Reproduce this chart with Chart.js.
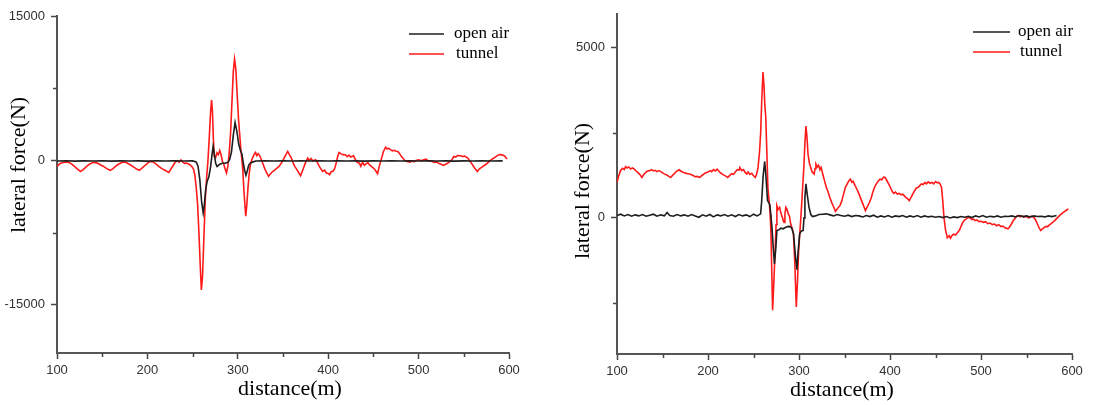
<!DOCTYPE html>
<html>
<head>
<meta charset="utf-8">
<script src="https://cdn.jsdelivr.net/npm/chart.js@4.4.1/dist/chart.umd.min.js"></script>
<style>
  html, body { margin: 0; padding: 0; background: #fff; }
  #wrap { position: relative; width: 1094px; height: 405px; }
  canvas { position: absolute; top: 0; }
</style>
</head>
<body>
<div id="wrap">
  <canvas id="leftChart" width="547" height="405" style="left:0"></canvas>
  <canvas id="rightChart" width="547" height="405" style="left:547px"></canvas>
</div>
<script>
// ---------- labels ----------
const X_TITLE = 'distance(m)';
const Y_TITLE = 'lateral force(N)';
const SERIES_NAMES = ['open air', 'tunnel'];

// ---------- ticks ----------
const X_MAJOR = [100, 200, 300, 400, 500, 600];
const X_MINOR = [150, 250, 350, 450, 550];
const LEFT_Y_MAJOR = [-15000, 0, 15000];
const LEFT_Y_MINOR = [-7500, 7500];
const RIGHT_Y_MAJOR = [0, 5000];
const RIGHT_Y_MINOR = [-2500, 2500];

// ---------- left chart: [distance, force] ----------
const LEFT_OPEN_AIR = [
  [100,-60],[110,-40],[120,-70],[130,-50],[140,-60],[150,-40],[160,-70],[170,-50],[180,-60],[190,-50],
  [200,-70],[210,-40],[220,-60],[230,-50],[240,-60],[250,-50],[254,-150],[256,-600],[258,-2000],[260,-4300],
  [261.7,-5440],[263,-4600],[264.5,-3000],[266,-2200],[268,-1700],[270,-600],[271.5,600],[272.7,1450],[274,700],
  [275.5,-300],[277,-620],[280,-400],[283,-300],[286,-300],[289,-200],[291,100],[293,900],[295,2600],[297,3930],
  [299,3000],[301,1700],[303,1000],[304.5,700],[306,-200],[307.5,-1000],[309,-1550],[310.5,-1100],[312,-500],
  [314,-250],[317,-150],[320,-60],[330,-40],[340,-60],[350,-50],[360,-60],[370,-40],[380,-60],[390,-50],
  [400,-60],[410,-40],[420,-60],[430,-50],[440,-70],[450,-50],[460,-60],[470,-40],[480,-60],[490,-50],
  [500,-60],[510,-40],[520,-60],[530,-50],[540,-70],[550,-50],[560,-60],[570,-40],[580,-60],[593,-50]
];
const LEFT_TUNNEL = [
  [100,-620],[103,-350],[106,-250],[109.7,-170],[113,-200],[116,-350],[119,-600],[122,-850],[126,-1140],[129,-950],
  [132,-700],[135,-450],[138,-280],[140.6,-200],[144,-250],[147,-400],[151,-600],[155,-850],[159,-1030],[162,-850],
  [165,-600],[168,-400],[171,-250],[173.5,-170],[177,-250],[181,-450],[185,-700],[188,-900],[191,-1030],[194,-800],
  [197,-550],[200,-300],[202,-150],[204.4,-100],[207,-200],[210,-400],[213,-650],[216,-850],[220,-1050],[223.7,-1240],
  [226,-900],[228,-600],[230,-300],[231.5,-100],[233.4,-30],[235,-200],[237,50],[239,-150],[241,-300],[243,-280],
  [245,-350],[247,-450],[249,-620],[251,-900],[252.5,-1500],[254,-2800],[255.5,-4500],[257,-7500],[258.5,-11000],
  [259.7,-13450],[261,-12000],[262.5,-8000],[264,-4070],[265.5,-1800],[267,0],[268.5,2500],[270,5200],[271,6280],
  [272,5000],[273,2200],[274,400],[275.5,300],[277,800],[278.5,600],[280,1030],[281.5,600],[283,-100],[284.5,-400],
  [286,-900],[287.5,-1310],[289,-600],[290.5,800],[292,2830],[293.5,6000],[295,9200],[296.4,10520],[297.8,9500],
  [299.5,6500],[301,4000],[302,2830],[303.5,1000],[305,-400],[305.7,-1310],[307,-3500],[308.8,-5790],[310,-4600],
  [311.3,-2800],[312.7,-1310],[314,-400],[316,200],[318,600],[319.6,830],[321,500],[322.5,700],[324.3,480],[326,100],
  [328,-400],[330,-900],[332,-1300],[334,-1650],[336,-1400],[338,-1200],[340,-1050],[342,-900],[345.6,-620],[348,-300],
  [350,0],[352,400],[355.2,930],[357,600],[359,300],[361,-200],[363,-620],[365,-900],[367,-1200],[369.5,-1590],
  [371,-1200],[373,-700],[375,-200],[377.3,240],[379,0],[381,200],[383,-50],[386,70],[388,-200],[390,-600],
  [392,-900],[393.9,-1140],[396,-1000],[398,-1300],[400,-1350],[401.6,-1480],[403,-1200],[405.5,-1100],[407.4,-790],
  [409,-200],[410.5,400],[412,830],[414,700],[416,600],[419,590],[421,400],[423,550],[425,350],[428,480],[430,100],
  [432,-200],[434.5,-280],[436,-600],[438,-200],[440,-500],[442,-340],[444,-250],[446,-500],[448,-650],[450,-790],
  [452,-1000],[454.6,-1380],[456,-800],[458,-100],[459.6,410],[461,900],[463.5,1380],[465,1200],[467,1250],
  [469.3,1100],[471,1000],[473,1050],[475,950],[477,930],[479,700],[481,400],[484.8,0],[487,-100],[490.6,-170],
  [493,-50],[495,-150],[497,0],[500,70],[503,-30],[505,50],[508,140],[510,0],[513,-60],[515,-100],[517.6,-200],
  [520,-150],[522,-300],[525,-400],[527.3,-520],[530,-400],[532,-300],[535,-100],[537,100],[539,410],[541,350],
  [543,500],[546.6,480],[549,400],[551,450],[554.4,240],[557,-100],[560,-500],[562,-800],[565,-1140],[567,-900],
  [570,-700],[573.7,-450],[576,-300],[578,-100],[581.4,140],[584,300],[587,500],[589,590],[591,600],[593,550],
  [595,480],[597.8,140]
];

// ---------- right chart: [distance, force] ----------
const RIGHT_OPEN_AIR = [
  [100,70],[104,110],[108,60],[112,100],[116,50],[120,90],[124,60],[128,100],[132,50],[136,80],[140,110],[144,50],
  [148,90],[152,60],[155,160],[158,70],[162,50],[166,100],[170,60],[174,90],[178,50],[182,100],[186,60],[190,20],
  [194,90],[198,50],[202,100],[206,30],[210,90],[214,60],[218,100],[222,50],[226,90],[230,40],[234,100],[238,60],
  [242,90],[246,40],[250,110],[254,60],[257.8,120],[259,500],[260.5,1200],[262.3,1660],[263.5,1300],[265.4,510],
  [268,390],[269,100],[270.3,-270],[271.5,-800],[273,-1350],[274.5,-900],[275.7,-370],[278,-350],[280,-300],
  [282.5,-320],[285,-280],[288,-250],[290,-255],[292,-300],[294,-470],[296,-1100],[297.7,-1520],[299,-1000],
  [300.7,-470],[302.5,-380],[304.5,-370],[305.5,0],[306.5,600],[307.6,1000],[309,700],[311,310],[313,100],[314.8,40],
  [318,60],[322,100],[326,110],[330,120],[334,90],[338,60],[342,100],[346,70],[350,50],[354,80],[358,40],[362,70],
  [366,60],[370,30],[374,70],[378,40],[382,80],[386,20],[390,60],[394,30],[398,70],[402,20],[406,60],[410,40],
  [414,70],[418,20],[422,60],[426,30],[430,70],[434,20],[438,60],[442,30],[446,50],[450,20],[454,40],[458,10],
  [462,40],[466,0],[470,30],[474,10],[478,40],[482,20],[486,50],[490,10],[494,60],[498,30],[502,70],[506,20],
  [510,50],[514,30],[518,60],[522,20],[526,50],[530,40],[534,60],[538,30],[542,70],[546,40],[550,60],[554,30],
  [558,60],[562,40],[566,50],[570,30],[574,60],[578,40],[583,70]
];
const RIGHT_TUNNEL = [
  [100,1045],[101.5,1200],[103.8,1390],[106,1460],[108,1420],[109.5,1510],[111,1470],[113,1500],[115,1440],[117,1470],
  [119,1435],[121,1380],[123,1330],[125,1280],[127.4,1190],[129,1260],[131,1320],[133,1370],[136,1390],[138,1420],
  [140,1380],[142,1400],[144,1360],[146,1390],[149.4,1340],[151,1310],[153,1280],[155,1260],[157,1220],[159,1190],
  [161,1250],[163,1300],[165,1360],[168.4,1415],[170,1380],[172,1350],[174,1330],[176,1310],[178,1300],[179.8,1290],
  [182,1270],[184,1240],[186,1210],[188,1220],[191,1190],[193,1240],[195,1280],[197,1320],[200,1350],[202.7,1390],
  [204,1360],[206,1420],[208,1380],[210,1435],[212,1370],[214,1320],[216,1280],[218,1250],[220,1220],[221.7,1190],
  [224,1250],[226,1300],[228,1280],[230,1350],[232,1420],[234,1400],[235,1485],[237,1390],[239,1420],[241,1330],
  [242.6,1290],[244,1350],[246,1280],[248,1310],[250,1240],[252,1190],[253.5,1300],[255,1485],[256.5,1900],
  [257.8,2460],[259,3400],[260.4,4290],[261.5,3900],[262.5,3300],[263.5,2950],[264.7,1900],[265.8,900],[267.3,460],
  [268.3,100],[269.2,-470],[270.1,-1600],[271,-2715],[272,-2100],[273.8,-960],[274.8,-200],[275.7,360],[277,250],
  [278.7,310],[280,150],[281.7,20],[282.7,-80],[283.6,-130],[284.5,100],[285.5,310],[286.8,250],[288.2,120],
  [289.5,50],[291,-195],[292.5,-300],[293.9,-470],[295.5,-1400],[297,-2620],[298.3,-1900],[299.6,-960],[301,-400],
  [302.3,120],[303.8,800],[305.3,1485],[306.5,2200],[307.6,2700],[308.7,2400],[309.9,1875],[311.5,1600],[312.9,1485],
  [314.5,1350],[316.7,1290],[317.6,1450],[318.6,1580],[320,1500],[321.5,1550],[323,1420],[324.3,1485],[326,1300],
  [328,1095],[330,900],[332,760],[333.8,605],[336,450],[338,330],[340,195],[341.5,250],[343,300],[345,360],[347,500],
  [349,700],[351,900],[353,1000],[355,1100],[356.6,1140],[358,1050],[359.5,1080],[361.6,950],[363.5,850],[366,700],
  [368,560],[370,420],[371.5,320],[373,215],[374.5,300],[376,380],[377.5,460],[379.5,600],[381,750],[383,900],
  [385,1000],[387,1080],[389,1140],[391,1120],[393,1200],[394.7,1190],[396.5,1100],[398.5,1000],[400.4,900],[402,800],
  [404,720],[406,760],[408,700],[410,720],[412,680],[414,700],[415.6,655],[417.5,600],[419.5,560],[421.3,510],
  [423,600],[425,700],[427,800],[429,880],[431,900],[432.7,950],[434.5,1000],[436.5,980],[438.4,1045],[440,1000],
  [442,1060],[444,1020],[446,1045],[448,1000],[450,1070],[452,1030],[453.6,1045],[455,1000],[456.6,900],[458,500],
  [459.3,20],[461,-350],[463,-585],[465,-520],[466.5,-600],[468,-520],[470,-480],[472,-500],[474.5,-420],[476.5,-350],
  [478,-250],[480,-130],[482,-60],[484,-20],[486,20],[488,0],[490,-50],[491.5,-30],[493.5,-80],[495.5,-60],
  [497.5,-110],[500,-100],[503,-130],[505,-110],[507.5,-170],[510,-150],[512.5,-195],[515,-180],[517,-230],
  [519.5,-200],[522,-255],[524,-240],[526.5,-290],[529.6,-320],[531,-280],[533,-200],[535.3,-80],[537.5,-10],
  [539,50],[541,70],[543,30],[545,60],[547,20],[550.5,40],[552.5,0],[555,50],[558,20],[560,-60],[562,-180],
  [564,-300],[565.7,-370],[567.5,-320],[569.5,-280],[571.5,-250],[573.3,-255],[575.5,-200],[577.5,-160],[579,-120],
  [581,-80],[583,-20],[585,30],[586.8,80],[588.5,120],[590.5,160],[592.5,200],[594.5,240],[596,265]
];

const COLORS = ['#1e1e1e', '#ff1a1a'];
const SANS = 'Liberation Sans, Arial, sans-serif';
const SERIF = 'Liberation Serif, Times New Roman, serif';

// minor ticks, axis titles and legend drawn with the chart's own scales
const originStyle = {
  id: 'originStyle',
  afterDraw(chart, args, opts) {
    const { ctx, chartArea } = chart;
    const x = chart.scales.x, y = chart.scales.y;
    ctx.save();
    ctx.strokeStyle = '#444';
    ctx.lineWidth = 1.5;
    ctx.beginPath();
    opts.minorX.forEach(v => {
      const px = Math.round(x.getPixelForValue(v)) + 0.5;
      ctx.moveTo(px, chartArea.bottom);
      ctx.lineTo(px, chartArea.bottom + 4);
    });
    opts.minorY.forEach(v => {
      const py = Math.round(y.getPixelForValue(v)) + 0.5;
      ctx.moveTo(chartArea.left, py);
      ctx.lineTo(chartArea.left - 4, py);
    });
    ctx.stroke();

    ctx.fillStyle = '#000';
    ctx.textAlign = 'center';
    ctx.textBaseline = 'middle';
    ctx.font = '22px ' + SERIF;
    ctx.fillText(X_TITLE, opts.xTitle[0], opts.xTitle[1]);
    ctx.save();
    ctx.translate(opts.yTitle[0], opts.yTitle[1]);
    ctx.rotate(-Math.PI / 2);
    ctx.fillText(Y_TITLE, 0, 0);
    ctx.restore();

    // legend
    ctx.font = '17px ' + SERIF;
    ctx.textAlign = 'left';
    chart.data.datasets.forEach((ds, i) => {
      const ly = opts.legend.y + i * opts.legend.gap;
      ctx.strokeStyle = ds.borderColor;
      ctx.lineWidth = 1.5;
      ctx.beginPath();
      ctx.moveTo(opts.legend.x0, ly);
      ctx.lineTo(opts.legend.x1, ly);
      ctx.stroke();
      ctx.fillStyle = '#000';
      ctx.fillText(ds.label, opts.legend.tx + i * 2, ly);
    });
    ctx.restore();
  }
};

function toPoints(pairs) {
  return pairs.map(p => ({ x: p[0], y: p[1] }));
}

function makeChart(id, series, yMin, yMax, yMajor, layout) {
  return new Chart(document.getElementById(id), {
    type: 'line',
    data: {
      datasets: series.map((s, i) => ({
        label: SERIES_NAMES[i],
        data: toPoints(s),
        borderColor: COLORS[i],
        borderWidth: 1.6,
        pointRadius: 0,
        tension: 0
      }))
    },
    options: {
      responsive: false,
      animation: false,
      devicePixelRatio: 1,
      layout: { padding: layout.padding },
      scales: {
        x: {
          type: 'linear', min: 100, max: 600,
          afterBuildTicks: s => { s.ticks = X_MAJOR.map(v => ({ value: v })); },
          afterFit: s => { s.height = layout.xHeight; },
          ticks: { color: '#333', font: { family: SANS, size: 13 }, padding: 4, maxRotation: 0, autoSkip: false, callback: v => String(v) },
          grid: { drawOnChartArea: false, drawTicks: true, tickLength: 6, tickColor: '#444', tickWidth: 1.5 },
          border: { display: true, color: '#555', width: 2 }
        },
        y: {
          type: 'linear', min: yMin, max: yMax,
          afterBuildTicks: s => { s.ticks = yMajor.map(v => ({ value: v })); },
          afterFit: s => { s.width = layout.yWidth; },
          ticks: { color: '#333', font: { family: SANS, size: 13 }, padding: 6, autoSkip: false, callback: v => String(v) },
          grid: { drawOnChartArea: false, drawTicks: true, tickLength: 6, tickColor: '#444', tickWidth: 1.5 },
          border: { display: true, color: '#555', width: 2 }
        }
      },
      plugins: {
        legend: { display: false },
        tooltip: { enabled: false },
        originStyle: layout.extras
      }
    },
    plugins: [originStyle]
  });
}

makeChart('leftChart', [LEFT_OPEN_AIR, LEFT_TUNNEL], -20000, 15000, LEFT_Y_MAJOR, {
  padding: { top: 16, right: 38, bottom: 0, left: 0 },
  xHeight: 52, yWidth: 57,
  extras: {
    minorX: X_MINOR, minorY: LEFT_Y_MINOR,
    xTitle: [290, 389], yTitle: [19, 165],
    legend: { x0: 409, x1: 444, y: 34, gap: 20, tx: 454 }
  }
});

makeChart('rightChart', [RIGHT_OPEN_AIR, RIGHT_TUNNEL], -4000, 6000, RIGHT_Y_MAJOR, {
  padding: { top: 13, right: 22, bottom: 0, left: 0 },
  xHeight: 51, yWidth: 70,
  extras: {
    minorX: X_MINOR, minorY: RIGHT_Y_MINOR,
    xTitle: [295, 390], yTitle: [36, 191],
    legend: { x0: 426, x1: 463, y: 32, gap: 20, tx: 471 }
  }
});
</script>
</body>
</html>
